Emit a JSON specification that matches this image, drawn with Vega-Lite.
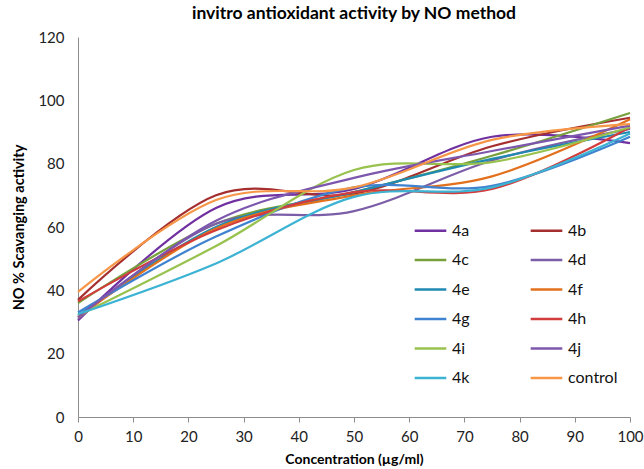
{
  "$schema": "https://vega.github.io/schema/vega-lite/v6.json",
  "width": 552,
  "height": 380,
  "autosize": "none",
  "padding": {"left": 78, "top": 37, "right": 14, "bottom": 52},
  "background": "white",
  "config": {"font": "Lato", "view": {"stroke": null}},
  "title": {"text": "invitro antioxidant activity by NO method", "fontSize": 17.5, "fontWeight": "bold", "color": "#000000", "anchor": "middle", "frame": "group", "offset": 8},
  "data": {"values": [
    {"s": "4a", "x": 0, "y": 30.5}, {"s": "4a", "x": 25, "y": 66}, {"s": "4a", "x": 50, "y": 72}, {"s": "4a", "x": 75, "y": 88.5}, {"s": "4a", "x": 100, "y": 86.5},
    {"s": "4b", "x": 0, "y": 37}, {"s": "4b", "x": 25, "y": 70}, {"s": "4b", "x": 50, "y": 70.5}, {"s": "4b", "x": 75, "y": 85.5}, {"s": "4b", "x": 100, "y": 94.5},
    {"s": "4c", "x": 0, "y": 36}, {"s": "4c", "x": 25, "y": 61}, {"s": "4c", "x": 50, "y": 71}, {"s": "4c", "x": 75, "y": 82.5}, {"s": "4c", "x": 100, "y": 96},
    {"s": "4d", "x": 0, "y": 31}, {"s": "4d", "x": 25, "y": 61}, {"s": "4d", "x": 50, "y": 65}, {"s": "4d", "x": 75, "y": 81}, {"s": "4d", "x": 100, "y": 91},
    {"s": "4e", "x": 0, "y": 32}, {"s": "4e", "x": 25, "y": 60}, {"s": "4e", "x": 50, "y": 71}, {"s": "4e", "x": 75, "y": 81.5}, {"s": "4e", "x": 100, "y": 90},
    {"s": "4f", "x": 0, "y": 31.5}, {"s": "4f", "x": 25, "y": 59.5}, {"s": "4f", "x": 50, "y": 70}, {"s": "4f", "x": 75, "y": 76}, {"s": "4f", "x": 100, "y": 94},
    {"s": "4g", "x": 0, "y": 33}, {"s": "4g", "x": 25, "y": 57}, {"s": "4g", "x": 50, "y": 72.5}, {"s": "4g", "x": 75, "y": 73}, {"s": "4g", "x": 100, "y": 88.5},
    {"s": "4h", "x": 0, "y": 36.5}, {"s": "4h", "x": 25, "y": 59}, {"s": "4h", "x": 50, "y": 71}, {"s": "4h", "x": 75, "y": 72}, {"s": "4h", "x": 100, "y": 91.5},
    {"s": "4i", "x": 0, "y": 32}, {"s": "4i", "x": 25, "y": 54}, {"s": "4i", "x": 50, "y": 78}, {"s": "4i", "x": 75, "y": 80.5}, {"s": "4i", "x": 100, "y": 91.5},
    {"s": "4j", "x": 0, "y": 31.5}, {"s": "4j", "x": 25, "y": 62}, {"s": "4j", "x": 50, "y": 75.5}, {"s": "4j", "x": 75, "y": 84}, {"s": "4j", "x": 100, "y": 92},
    {"s": "4k", "x": 0, "y": 32.5}, {"s": "4k", "x": 25, "y": 48.5}, {"s": "4k", "x": 50, "y": 69.5}, {"s": "4k", "x": 75, "y": 72.5}, {"s": "4k", "x": 100, "y": 89.5},
    {"s": "control", "x": 0, "y": 39.5}, {"s": "control", "x": 25, "y": 68.5}, {"s": "control", "x": 50, "y": 72.5}, {"s": "control", "x": 75, "y": 87.5}, {"s": "control", "x": 100, "y": 92.5}
  ]},
  "mark": {"type": "line", "interpolate": "cardinal", "strokeWidth": 2.2},
  "encoding": {
    "x": {"field": "x", "type": "quantitative", "scale": {"domain": [0, 100], "nice": false},
      "axis": {"title": "Concentration (µg/ml)", "values": [0,10,20,30,40,50,60,70,80,90,100], "grid": false, "domainColor": "#8c8c8c", "tickColor": "#8c8c8c", "tickSize": 5, "labelFontSize": 15, "labelColor": "#222222", "labelPadding": 7, "titleFontSize": 14, "titleFontWeight": "bold", "titleColor": "#000000", "titlePadding": 8, "labelFlush": false}},
    "y": {"field": "y", "type": "quantitative", "scale": {"domain": [0, 120], "nice": false},
      "axis": {"title": "NO % Scavanging activity", "values": [0,20,40,60,80,100,120], "grid": false, "domainColor": "#8c8c8c", "ticks": false, "labelFontSize": 15, "labelColor": "#222222", "labelPadding": 14, "titleFontSize": 14.5, "titleFontWeight": "bold", "titleColor": "#000000", "titlePadding": 11}},
    "color": {"field": "s", "type": "nominal",
      "scale": {"domain": ["4a","4b","4c","4d","4e","4f","4g","4h","4i","4j","4k","control"],
        "range": ["#7030a0","#a52f2f","#77a03c","#7b5ea7","#1f8ab0","#e2701d","#3f82cf","#d23c3c","#98c24e","#7d57ad","#3db3d4","#f79646"]},
      "legend": {"title": null, "orient": "none", "legendX": 335, "legendY": 176, "columns": 2, "direction": "horizontal", "symbolType": "stroke", "symbolSize": 1000, "symbolStrokeWidth": 2.5, "labelFontSize": 16, "labelColor": "#111111", "labelOffset": 4, "rowPadding": 3.5, "columnPadding": 55, "padding": 0}}
  }
}
